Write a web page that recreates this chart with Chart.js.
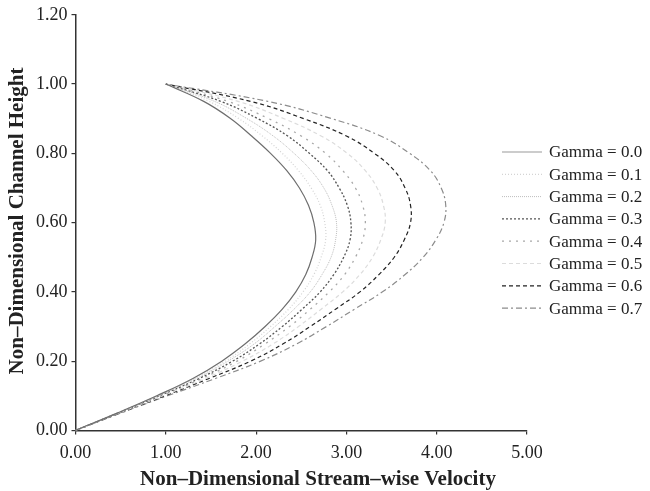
<!DOCTYPE html>
<html>
<head>
<meta charset="utf-8">
<script src="https://cdn.jsdelivr.net/npm/chart.js@4/dist/chart.umd.min.js"></script>
<style>
  html, body { margin: 0; padding: 0; background: #fff; }
  #wrap { width: 650px; height: 491px; }
</style>
</head>
<body>
<div id="wrap"><canvas id="c" width="650" height="491"></canvas></div>
<script>
// Channel height levels (shared y values)
const heightLevels = [0, 0.05, 0.10, 0.15, 0.20, 0.25, 0.30, 0.35, 0.40, 0.45, 0.50,
                      0.55, 0.60, 0.65, 0.70, 0.75, 0.80, 0.85, 0.90, 0.95, 1.00];

// Stream-wise velocity at each height level, one array per Gamma
const gamma00 = [0, 0.46, 0.90, 1.30, 1.62, 1.88, 2.10, 2.29, 2.44, 2.55, 2.62, 2.66, 2.64, 2.58, 2.48, 2.34, 2.16, 1.95, 1.72, 1.42, 1.00];
const gamma01 = [0, 0.46, 0.91, 1.32, 1.66, 1.93, 2.16, 2.36, 2.52, 2.64, 2.72, 2.77, 2.76, 2.71, 2.61, 2.47, 2.29, 2.07, 1.81, 1.48, 1.00];
const gamma02 = [0, 0.47, 0.92, 1.34, 1.69, 1.98, 2.21, 2.42, 2.60, 2.73, 2.83, 2.88, 2.89, 2.84, 2.75, 2.61, 2.42, 2.19, 1.90, 1.54, 1.00];
const gamma03 = [0, 0.47, 0.93, 1.37, 1.74, 2.04, 2.29, 2.51, 2.71, 2.86, 2.97, 3.04, 3.05, 3.01, 2.92, 2.79, 2.59, 2.35, 2.02, 1.61, 1.00];
const gamma04 = [0, 0.48, 0.95, 1.40, 1.79, 2.10, 2.37, 2.60, 2.81, 2.98, 3.10, 3.18, 3.21, 3.18, 3.10, 2.96, 2.77, 2.50, 2.14, 1.69, 1.00];
const gamma05 = [0, 0.48, 0.97, 1.44, 1.85, 2.19, 2.47, 2.72, 2.96, 3.15, 3.29, 3.38, 3.43, 3.41, 3.34, 3.21, 3.01, 2.72, 2.31, 1.80, 1.00];
const gamma06 = [0, 0.49, 0.99, 1.48, 1.94, 2.30, 2.60, 2.88, 3.15, 3.36, 3.53, 3.64, 3.71, 3.71, 3.65, 3.53, 3.31, 3.00, 2.53, 1.94, 1.00];
const gamma07 = [0, 0.50, 1.02, 1.55, 2.05, 2.45, 2.78, 3.09, 3.40, 3.65, 3.85, 3.99, 4.08, 4.10, 4.05, 3.93, 3.70, 3.38, 2.84, 2.13, 1.00];

const seriesLabels = ['Gamma = 0.0', 'Gamma = 0.1', 'Gamma = 0.2', 'Gamma = 0.3',
                      'Gamma = 0.4', 'Gamma = 0.5', 'Gamma = 0.6', 'Gamma = 0.7'];
const seriesValues = [gamma00, gamma01, gamma02, gamma03, gamma04, gamma05, gamma06, gamma07];

const xTickValues = [0, 1, 2, 3, 4, 5];
const yTickValues = [0, 0.2, 0.4, 0.6, 0.8, 1.0, 1.2];

const xTitle = 'Non\u2013Dimensional Stream\u2013wise Velocity';
const yTitle = 'Non\u2013Dimensional Channel Height';

// styles
const lineStyles = [
  { color: '#6e6e6e', width: 1.2, dash: [] },
  { color: '#d4d4d4', width: 1.2, dash: [1, 2] },
  { color: '#bdbdbd', width: 1.0, dash: [1, 1] },
  { color: '#555555', width: 1.3, dash: [2, 2] },
  { color: '#a8a8a8', width: 1.3, dash: [2, 5] },
  { color: '#dcdcdc', width: 1.2, dash: [4, 3] },
  { color: '#222222', width: 1.2, dash: [4, 3] },
  { color: '#8c8c8c', width: 1.2, dash: [6, 3, 2, 3] }
];

const datasets = seriesValues.map((vals, i) => ({
  label: seriesLabels[i],
  data: vals.map((v, k) => ({ x: v, y: heightLevels[k] })),
  showLine: true,
  borderColor: lineStyles[i].color,
  backgroundColor: lineStyles[i].color,
  borderWidth: lineStyles[i].width,
  borderDash: lineStyles[i].dash,
  pointRadius: 0,
  tension: 0.4,
  fill: false
}));

const serif = '"Liberation Serif", "Times New Roman", serif';

const decorPlugin = {
  id: 'decor',
  afterDraw(chart) {
    const ctx = chart.ctx;
    ctx.save();
    // legend
    const legendTop = 152, legendStep = 22.3;
    chart.data.datasets.forEach((ds, i) => {
      const y = legendTop + i * legendStep;
      ctx.beginPath();
      ctx.setLineDash(ds.borderDash || []);
      ctx.strokeStyle = i === 0 ? '#9a9a9a' : ds.borderColor;
      ctx.lineWidth = ds.borderWidth;
      ctx.moveTo(502, y);
      ctx.lineTo(542, y);
      ctx.stroke();
      ctx.setLineDash([]);
      ctx.fillStyle = '#222';
      ctx.font = '17px ' + serif;
      ctx.textAlign = 'left';
      ctx.textBaseline = 'middle';
      ctx.fillText(ds.label, 549, y + 1);
    });
    // axis titles
    ctx.fillStyle = '#222';
    ctx.font = 'bold 21px ' + serif;
    ctx.textAlign = 'center';
    ctx.textBaseline = 'middle';
    ctx.fillText(xTitle, 318, 480);
    ctx.translate(18, 221);
    ctx.rotate(-Math.PI / 2);
    ctx.fillText(yTitle, 0, 0);
    ctx.restore();
  }
};

new Chart(document.getElementById('c'), {
  type: 'scatter',
  data: { datasets },
  plugins: [decorPlugin],
  options: {
    responsive: false,
    animation: false,
    layout: { padding: { left: 32, right: 123, top: 13, bottom: 19 } },
    plugins: { legend: { display: false }, tooltip: { enabled: false } },
    scales: {
      x: {
        type: 'linear', min: 0, max: 5,
        afterBuildTicks: (s) => { s.ticks = xTickValues.map(v => ({ value: v })); },
        border: { display: true, color: '#333', width: 1.5 },
        grid: { display: true, drawOnChartArea: false, drawTicks: true, tickLength: 4, color: '#333', lineWidth: 1.2 },
        ticks: { color: '#222', font: { family: serif, size: 18 }, padding: 8, maxRotation: 0,
                 callback: (v) => Number(v).toFixed(2) }
      },
      y: {
        type: 'linear', min: 0, max: 1.2,
        afterBuildTicks: (s) => { s.ticks = yTickValues.map(v => ({ value: v })); },
        border: { display: true, color: '#333', width: 1.5 },
        grid: { display: true, drawOnChartArea: false, drawTicks: true, tickLength: 4, color: '#333', lineWidth: 1.2 },
        ticks: { color: '#222', font: { family: serif, size: 18 }, padding: 4,
                 callback: (v) => Number(v).toFixed(2) }
      }
    }
  }
});
</script>
</body>
</html>
